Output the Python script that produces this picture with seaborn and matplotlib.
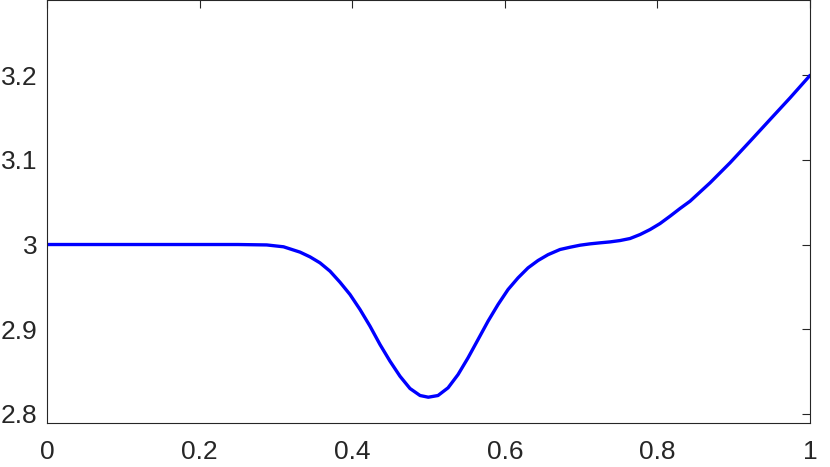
import numpy as np
import pandas as pd
import matplotlib
matplotlib.use('Agg')
import matplotlib.pyplot as plt
import seaborn as sns

# values
x_vals = [0.0, 0.1, 0.2, 0.25, 0.288, 0.310, 0.3316, 0.3447, 0.3578, 0.3709,
          0.3840, 0.3971, 0.4102, 0.4233, 0.4364, 0.4495, 0.4626, 0.4757, 0.4889,
          0.4997, 0.5124, 0.5256, 0.5387, 0.5518, 0.5649, 0.5780, 0.5911, 0.6042,
          0.6173, 0.6304, 0.6435, 0.6566, 0.6723, 0.6855, 0.6986, 0.7117, 0.7248,
          0.7379, 0.7510, 0.7641, 0.7772, 0.7903, 0.8034, 0.8165, 0.8296, 0.8427,
          0.8689, 0.8951, 0.9214, 0.9476, 0.9738, 1.0]
y_vals = [3.0, 3.0, 3.0, 3.0, 2.9995, 2.9973, 2.991, 2.9854, 2.9783, 2.9685,
          2.9554, 2.9409, 2.9232, 2.9035, 2.8818, 2.8621, 2.8443, 2.8298, 2.8215,
          2.8195, 2.8215, 2.8306, 2.8463, 2.8661, 2.8877, 2.9094, 2.9291, 2.9468,
          2.9606, 2.9724, 2.9811, 2.9880, 2.9941, 2.9968, 2.9992, 3.0008, 3.0020,
          3.0031, 3.0047, 3.0071, 3.0118, 3.0177, 3.0248, 3.0335, 3.0426, 3.0512,
          3.0729, 3.0966, 3.1221, 3.1478, 3.1734, 3.2]

xticks = [0, 0.2, 0.4, 0.6, 0.8, 1]
xtick_labels = ['0', '0.2', '0.4', '0.6', '0.8', '1']
yticks = [2.8, 2.9, 3.0, 3.1, 3.2]
ytick_labels = ['2.8', '2.9', '3', '3.1', '3.2']

df = pd.DataFrame({'x': x_vals, 'y': y_vals})

sns.set_style('white')
plt.rcParams['font.family'] = ['Liberation Sans', 'DejaVu Sans']

fig = plt.figure(figsize=(8.3, 4.67), dpi=100)
ax = fig.add_axes([0.0566, 0.0942, 0.9194, 0.9048])

sns.lineplot(data=df, x='x', y='y', color='#0000ff', linewidth=2.4, ax=ax)
ax.lines[0].set_solid_joinstyle('round')

ax.set_xlim(0, 1)
ax.set_ylim(2.789, 3.2885)
ax.set_xticks(xticks)
ax.set_xticklabels(xtick_labels)
ax.set_yticks(yticks)
ax.set_yticklabels(ytick_labels)
ax.set_xlabel('')
ax.set_ylabel('')

for s in ax.spines.values():
    s.set_visible(True)
    s.set_color('#262626')
    s.set_linewidth(0.8)

ax.tick_params(axis='both', direction='in', length=5.8, width=0.8, color='#262626',
               labelcolor='#262626', labelsize=19, top=True, right=True)
ax.tick_params(axis='x', pad=12)
ax.tick_params(axis='y', pad=7)

fig.savefig('out.png', dpi=100)
